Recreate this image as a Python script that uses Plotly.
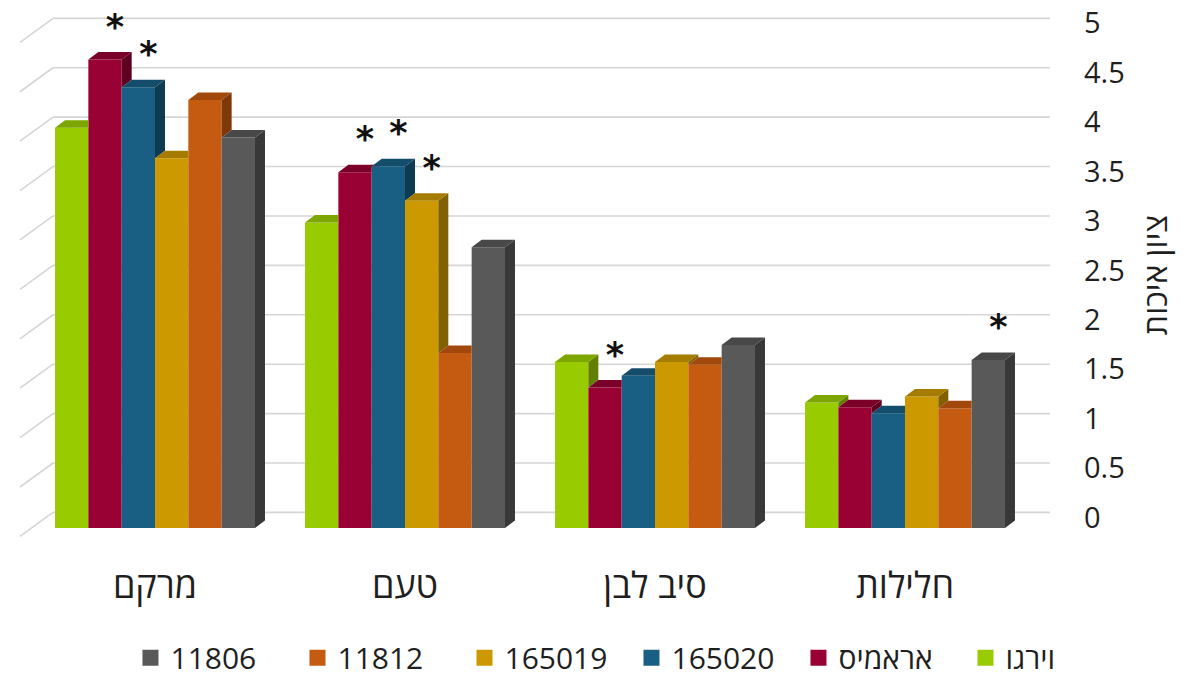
import plotly.graph_objects as go

# ---------------- data ----------------
categories = ["מרקם", "טעם", "סיב לבן", "חלילות"]
series_names = ["וירגו", "אראמיס", "165020", "165019", "11812", "11806"]

virgo = [4.05, 3.09, 1.68, 1.27]
aramis = [4.74, 3.60, 1.42, 1.22]
s165020 = [4.46, 3.66, 1.54, 1.16]
s165019 = [3.74, 3.31, 1.68, 1.33]
s11812 = [4.33, 1.77, 1.65, 1.21]
s11806 = [3.95, 2.84, 1.85, 1.70]
series_values = [virgo, aramis, s165020, s165019, s11812, s11806]

# significance markers (1 = asterisk above the bar)
sig_virgo = [0, 0, 0, 0]
sig_aramis = [1, 1, 1, 0]
sig_165020 = [1, 1, 0, 0]
sig_165019 = [0, 1, 0, 0]
sig_11812 = [0, 0, 0, 0]
sig_11806 = [0, 0, 0, 1]
series_sig = [sig_virgo, sig_aramis, sig_165020, sig_165019, sig_11812, sig_11806]

y_ticks = [0, 0.5, 1, 1.5, 2, 2.5, 3, 3.5, 4, 4.5, 5]
y_ticktext = ["0", "0.5", "1", "1.5", "2", "2.5", "3", "3.5", "4", "4.5", "5"]
y_title = "ציון איכות"

# ---------------- style ----------------
front_colors = ["#99CC00", "#990033", "#195E83", "#CC9900", "#C55A11", "#595959"]
top_colors = ["#7DA600", "#7B0029", "#144D6C", "#A67C00", "#A3480D", "#484848"]
side_colors = ["#627F00", "#5E001F", "#0E3A52", "#806000", "#7E380A", "#383838"]

FONT = "Open Sans, DejaVu Sans, sans-serif"
TEXT_COLOR = "#1F1F1F"
GRID_COLOR = "#D6D6D6"

W = 0.1333      # bar width (x units)
DX = 0.040      # 3D depth, horizontal
DY = 0.076      # 3D depth, vertical
OFF = 0.157     # floor offset of bar fronts below the back wall
WALL_DX = 0.132
WALL_DY = 0.243
X_MIN, X_MAX = -0.56, 3.58
Y_MIN, Y_MAX = -0.33, 5.135
ASTER_GAP = 0.30

fig = go.Figure()

n_s = len(series_names)
n_c = len(categories)

# front faces (real bars)
for j in range(n_s):
    xs = [i + (j - n_s / 2 + 0.5) * W for i in range(n_c)]
    fig.add_trace(go.Bar(
        x=xs, y=series_values[j], base=-OFF, width=W,
        name=series_names[j], marker=dict(color=front_colors[j], line=dict(width=0)),
        showlegend=False, legendgroup=series_names[j],
        customdata=series_values[j], hovertemplate="%{customdata}<extra>" + series_names[j] + "</extra>",
    ))

# side faces
for j in range(n_s):
    px, py = [], []
    for i in range(n_c):
        v = series_values[j][i]
        T = v - OFF
        x0 = i + (j - n_s / 2) * W
        x1 = x0 + W
        if j == n_s - 1:
            poly = [(x1, -OFF), (x1, T), (x1 + DX, T + DY), (x1 + DX, -OFF + DY)]
        else:
            Tn = series_values[j + 1][i] - OFF
            if Tn < T:
                poly = [(x1, Tn), (x1, T), (x1 + DX, T + DY), (x1 + DX, Tn + DY)]
            else:
                poly = None
        if poly:
            for (a, b) in poly + [poly[0]]:
                px.append(a)
                py.append(b)
            px.append(None)
            py.append(None)
    fig.add_trace(go.Scatter(
        x=px, y=py, mode="lines", fill="toself", fillcolor=side_colors[j],
        line=dict(width=0, color=side_colors[j]), hoverinfo="skip", showlegend=False,
        legendgroup=series_names[j],
    ))

# top faces
for j in range(n_s):
    px, py = [], []
    for i in range(n_c):
        v = series_values[j][i]
        T = v - OFF
        x0 = i + (j - n_s / 2) * W
        x1 = x0 + W
        Tn = series_values[j + 1][i] - OFF if j < n_s - 1 else None
        if Tn is None or Tn <= T:
            poly = [(x0, T), (x1, T), (x1 + DX, T + DY), (x0 + DX, T + DY)]
        elif Tn >= T + DY:
            poly = [(x0, T), (x1, T), (x1, T + DY), (x0 + DX, T + DY)]
        else:
            poly = [(x0, T), (x1, T), (x1, Tn), (x1 + (Tn - T) / DY * DX, Tn),
                    (x1 + DX, T + DY), (x0 + DX, T + DY)]
        for (a, b) in poly + [poly[0]]:
            px.append(a)
            py.append(b)
        px.append(None)
        py.append(None)
    fig.add_trace(go.Scatter(
        x=px, y=py, mode="lines", fill="toself", fillcolor=top_colors[j],
        line=dict(width=0, color=top_colors[j]), hoverinfo="skip", showlegend=False,
        legendgroup=series_names[j],
    ))

# asterisks
ax_, ay_ = [], []
for j in range(n_s):
    for i in range(n_c):
        if series_sig[j][i]:
            ax_.append(i + (j - n_s / 2 + 0.5) * W + DX)
            ay_.append(series_values[j][i] - OFF + ASTER_GAP)
fig.add_trace(go.Scatter(
    x=ax_, y=ay_, mode="text", text=["*"] * len(ax_), textposition="middle center",
    textfont=dict(family="DejaVu Sans, sans-serif", size=35, color="#111111", weight="bold"),
    hoverinfo="skip", showlegend=False,
))

# legend entries (left-to-right as in the reference)
for j in reversed(range(n_s)):
    fig.add_trace(go.Scatter(
        x=[None], y=[None], mode="markers", name=series_names[j],
        marker=dict(symbol="square", size=18, color=front_colors[j]),
        legendgroup=series_names[j], showlegend=True,
    ))

# back wall gridlines and left wall slants
shapes = []
for t in y_ticks:
    shapes.append(dict(type="line", xref="x", yref="y", x0=X_MIN + 0.02, y0=t - WALL_DY,
                       x1=X_MIN + 0.02 + WALL_DX, y1=t, line=dict(color=GRID_COLOR, width=1.6),
                       layer="below"))
    shapes.append(dict(type="line", xref="x", yref="y", x0=X_MIN + 0.02 + WALL_DX, y0=t,
                       x1=X_MAX, y1=t, line=dict(color=GRID_COLOR, width=1.6), layer="below"))

fig.update_layout(
    width=1196, height=678,
    margin=dict(l=15, r=146, t=5, b=133, autoexpand=False),
    paper_bgcolor="white", plot_bgcolor="white",
    barmode="overlay",
    font=dict(family=FONT, color=TEXT_COLOR, size=28),
    shapes=shapes,
    showlegend=True,
    legend=dict(orientation="h", xref="container", x=0.528, xanchor="center",
                yref="container", y=0.03, yanchor="middle",
                font=dict(family=FONT, size=30, color=TEXT_COLOR),
                itemsizing="trace", itemwidth=30, tracegroupgap=0,
                entrywidth=122, entrywidthmode="pixels"),
    xaxis=dict(range=[X_MIN, X_MAX], tickvals=list(range(n_c)), ticktext=categories,
               showgrid=False, zeroline=False, showline=False, ticks="",
               tickfont=dict(family=FONT, size=36, color=TEXT_COLOR), ticklabelstandoff=16,
               automargin=False, fixedrange=True),
    yaxis=dict(range=[Y_MIN, Y_MAX], side="right", tickvals=y_ticks, ticktext=y_ticktext,
               showgrid=False, zeroline=False, showline=False, ticks="",
               tickfont=dict(family=FONT, size=29, color=TEXT_COLOR), ticklabelstandoff=33,
               ticklabelshift=5, ticklabeloverflow="allow", automargin=False,
               title=dict(text=y_title, font=dict(family=FONT, size=32, color=TEXT_COLOR), standoff=20),
               fixedrange=True),
)

fig.write_html("out.html", config={"displayModeBar": False},
               post_script="document.body.style.margin='0';")
